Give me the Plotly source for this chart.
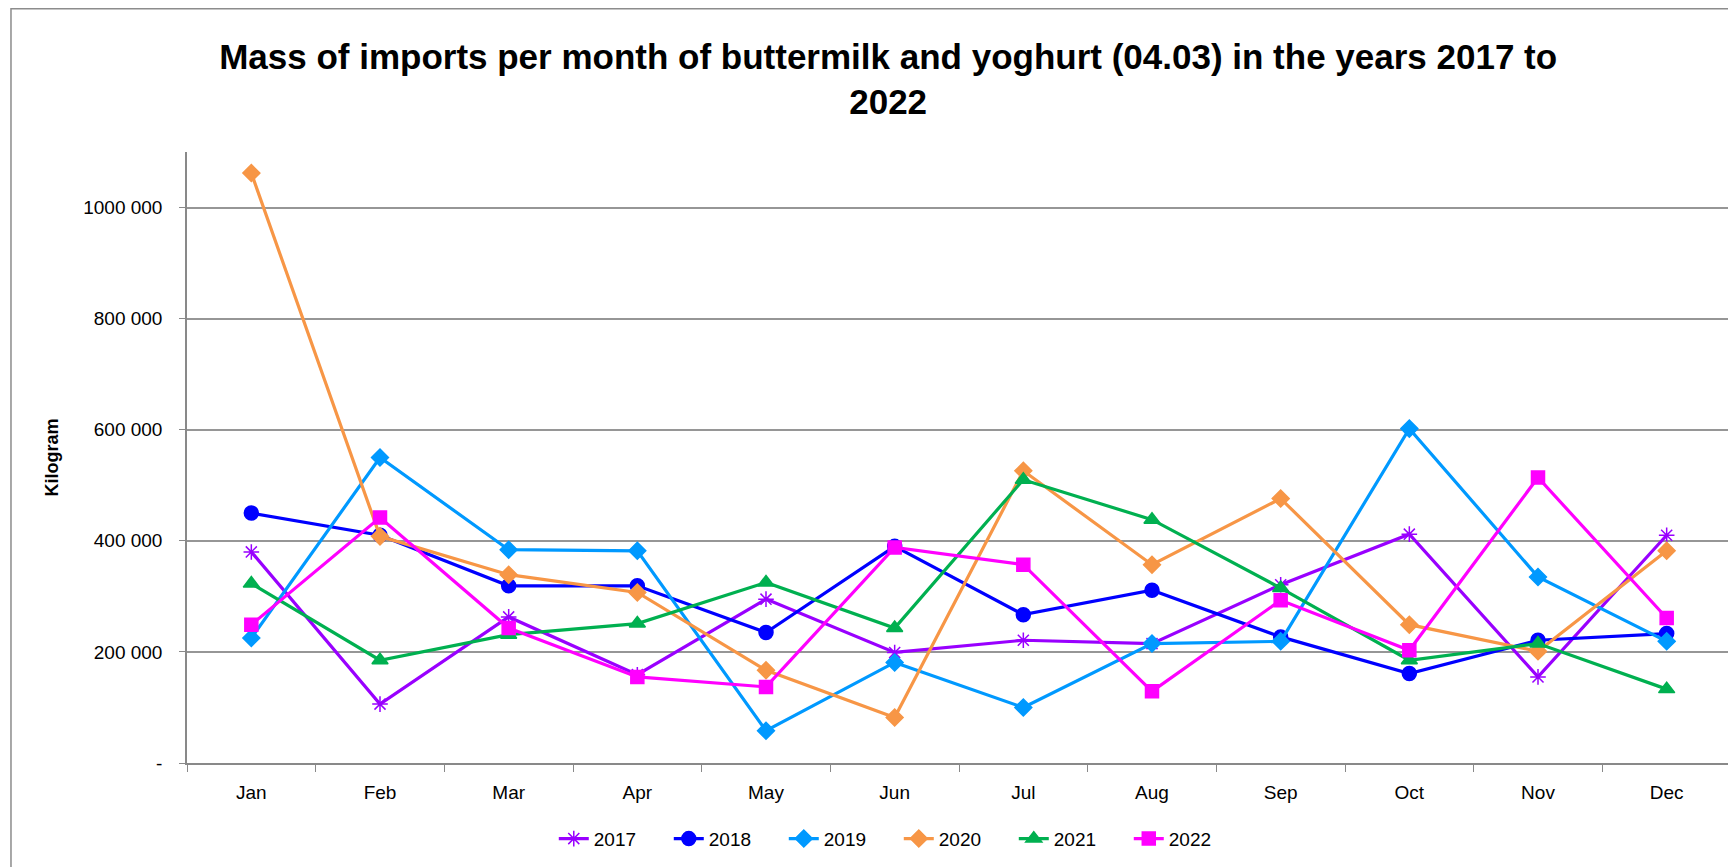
import plotly.graph_objects as go

months = ["Jan", "Feb", "Mar", "Apr", "May", "Jun", "Jul", "Aug", "Sep", "Oct", "Nov", "Dec"]

y2017 = [380000, 106000, 263000, 159000, 295000, 199000, 221000, 215000, 321000, 412000, 155000, 410000]
y2018 = [450000, 410000, 319000, 319000, 235000, 390000, 267000, 311000, 227000, 161000, 221000, 233000]
y2019 = [225000, 550000, 384000, 382000, 58000, 181000, 100000, 215000, 219000, 602000, 335000, 219000]
y2020 = [1062000, 408000, 339000, 307000, 167000, 82000, 526000, 357000, 476000, 249000, 201000, 382000]
y2021 = [323000, 185000, 231000, 251000, 325000, 243000, 510000, 438000, 315000, 185000, 215000, 133000]
y2022 = [249000, 442000, 243000, 155000, 137000, 388000, 357000, 129000, 293000, 203000, 514000, 261000]

series_names = ["2017", "2018", "2019", "2020", "2021", "2022"]
series_values = [y2017, y2018, y2019, y2020, y2021, y2022]
series_colors = ["#9900FF", "#0000FF", "#0099FF", "#F79646", "#00B050", "#FF00FF"]
series_symbols = ["asterisk-open", "circle", "diamond", "diamond", "triangle-up", "square"]
series_sizes = [13, 14, 13, 13, 14, 13]

tick_vals = [0, 200000, 400000, 600000, 800000, 1000000]
tick_text = ["-", "200 000", "400 000", "600 000", "800 000", "1000 000"]

title_text = "Mass of imports per month of buttermilk and yoghurt (04.03) in the years 2017 to<br>2022"

fig = go.Figure()
for name, vals, col, sym, sz in zip(series_names, series_values, series_colors, series_symbols, series_sizes):
    fig.add_trace(go.Scatter(
        x=months, y=vals, name=name, mode="lines+markers",
        line=dict(color=col, width=3.2),
        marker=dict(symbol=sym, size=sz, color=col, line=dict(color=col, width=1.5)),
    ))

fig.update_layout(
    width=1736, height=867,
    paper_bgcolor="white", plot_bgcolor="white",
    margin=dict(l=179, r=13, t=144, b=112),
    font=dict(family="Liberation Sans", color="black", size=19),
    title=dict(
        text=title_text, x=0.507, xanchor="center", y=0.930, yanchor="middle",
        font=dict(family="Liberation Sans", size=35, color="black", weight="bold"),
    ),
    xaxis=dict(
        type="category", showgrid=False, showline=True, linecolor="#898989", linewidth=1.5,
        ticks="outside", tickson="boundaries", ticklen=7, tickcolor="#898989",
        tickfont=dict(size=19), range=[-0.5, 11.5], ticklabelstandoff=11,
    ),
    yaxis=dict(
        range=[0, 1100000], tickvals=tick_vals, ticktext=tick_text,
        showgrid=True, gridcolor="#969696", gridwidth=1.8,
        showline=True, linecolor="#898989", linewidth=1.5,
        ticks="outside", ticklen=6, tickcolor="#898989",
        tickfont=dict(size=19), zeroline=False, ticklabelstandoff=13,
        title=dict(text="<b>Kilogram</b>", font=dict(size=18), standoff=20),
    ),
    legend=dict(
        orientation="h", x=0.461, xanchor="center", y=-0.124, yanchor="middle",
        font=dict(size=19), itemwidth=30, entrywidth=70, entrywidthmode="pixels",
        traceorder="normal",
    ),
    shapes=[dict(
        type="rect", xref="paper", yref="paper",
        x0=-0.114, x1=1.02, y0=-0.3, y1=1.2345,
        line=dict(color="#8C8C8C", width=1.5), fillcolor="rgba(0,0,0,0)", layer="below",
    )],
)

fig.write_html("out.html")
